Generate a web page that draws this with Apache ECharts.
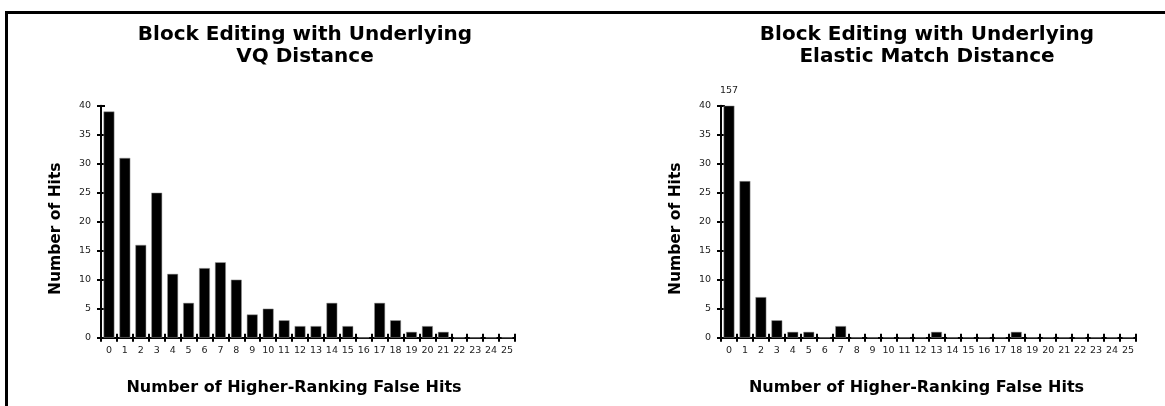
<!DOCTYPE html>
<html>
<head>
<meta charset="utf-8">
<script src="https://cdn.jsdelivr.net/npm/echarts@6/dist/echarts.min.js"></script>
<style>
html, body { margin: 0; padding: 0; background: #fff; }
#main { width: 1165px; height: 406px; }
</style>
</head>
<body>
<div id="main"></div>
<script>
// categories: number of higher-ranking false hits
var hitCategories = ['0','1','2','3','4','5','6','7','8','9','10','11','12','13',
	'14','15','16','17','18','19','20','21','22','23','24','25'];

// number of hits, VQ distance
var vqHits = [39,31,16,25,11,6,12,13,10,4,5,3,2,2,6,2,0,6,3,1,2,1,0,0,0,0];

// number of hits, elastic match distance (first bar runs off the top: 157)
var elasticHits = [157,27,7,3,1,1,0,2,0,0,0,0,0,1,0,0,0,0,1,0,0,0,0,0,0,0];

var yMax = 40;
var yStep = 5;

var FONT = 'DejaVu Sans';

// bars taller than the axis are cut at the top and labelled with their value
function clipped(values) {
	return values.map(function (v) {
		if (v > yMax) {
			return {
				value: yMax,
				label: {
					show: true, position: 'top', distance: 10,
					formatter: String(v),
					fontFamily: FONT, fontSize: 9.5, color: '#222'
				}
			};
		}
		return v;
	});
}

function mainX(grid, pad) {
	return {
		type: 'category', gridIndex: grid, position: 'bottom',
		data: hitCategories,
		axisLine: {lineStyle: {color: '#000', width: 2}},
		axisTick: {show: true, interval: 0, inside: false, length: 4, lineStyle: {color: '#000', width: 2}},
		axisLabel: {interval: 0, margin: 8, fontFamily: FONT, fontSize: 9.5, color: '#222'},
		name: 'Number of Higher-Ranking False Hits',
		nameLocation: 'middle', nameGap: 42,
		nameTextStyle: {fontFamily: FONT, fontWeight: 'bold', fontSize: 16, color: '#000', padding: pad}
	};
}

// second axis on the same grid, only to draw the upper half of the ticks
function innerX(grid) {
	return {
		type: 'category', gridIndex: grid, position: 'bottom',
		data: hitCategories,
		axisLine: {show: false},
		axisTick: {show: true, interval: 0, inside: true, length: 4, lineStyle: {color: '#000', width: 2}},
		axisLabel: {show: false}
	};
}

function mainY(grid) {
	return {
		type: 'value', gridIndex: grid, position: 'left',
		min: 0, max: yMax, interval: yStep,
		axisLine: {show: true, lineStyle: {color: '#000', width: 2}},
		axisTick: {show: true, inside: false, length: 4, lineStyle: {color: '#000', width: 2}},
		axisLabel: {margin: 10, fontFamily: FONT, fontSize: 9.5, color: '#222'},
		splitLine: {show: false},
		name: 'Number of Hits',
		nameLocation: 'middle', nameGap: 37, nameRotate: 90,
		nameTextStyle: {fontFamily: FONT, fontWeight: 'bold', fontSize: 15.5, color: '#000', padding: [0, 14, 0, 0]}
	};
}

function innerY(grid) {
	return {
		type: 'value', gridIndex: grid, position: 'left',
		min: 0, max: yMax, interval: yStep,
		axisLine: {show: false},
		axisTick: {show: true, inside: true, length: 4, lineStyle: {color: '#000', width: 2}},
		axisLabel: {show: false},
		splitLine: {show: false}
	};
}

var titleStyle = {fontFamily: FONT, fontWeight: 'bold', fontSize: 20, lineHeight: 22, color: '#000'};

var option = {
	animation: false,
	backgroundColor: '#fff',
	title: [
		{text: 'Block Editing with Underlying\nVQ Distance', left: 305, top: 24, padding: 0,
			textAlign: 'center', textStyle: titleStyle},
		{text: 'Block Editing with Underlying\nElastic Match Distance', left: 927, top: 24, padding: 0,
			textAlign: 'center', textStyle: titleStyle}
	],
	grid: [
		{left: 101, right: 650, top: 105.7, bottom: 68.3},
		{left: 721, right: 29, top: 105.7, bottom: 68.3}
	],
	xAxis: [mainX(0, [0, 28, 0, 0]), innerX(0), mainX(1, [0, 24, 0, 0]), innerX(1)],
	yAxis: [mainY(0), innerY(0), mainY(1), innerY(1)],
	series: [
		{
			name: 'VQ Distance', type: 'bar',
			xAxisIndex: 0, yAxisIndex: 0,
			barCategoryGap: '32%',
			itemStyle: {color: '#000', borderColor: '#999', borderWidth: 0.5},
			data: vqHits
		},
		{
			name: 'Elastic Match Distance', type: 'bar',
			xAxisIndex: 2, yAxisIndex: 2,
			barCategoryGap: '32%',
			itemStyle: {color: '#000', borderColor: '#999', borderWidth: 0.5},
			data: clipped(elasticHits)
		}
	],
	graphic: [
		{
			type: 'polyline', silent: true,
			shape: {points: [[6.5, 406], [6.5, 12.5], [1165, 12.5]]},
			style: {stroke: '#000', lineWidth: 3, fill: null}
		}
	]
};

var myChart = echarts.init(document.getElementById('main'));
myChart.setOption(option);
</script>
</body>
</html>
